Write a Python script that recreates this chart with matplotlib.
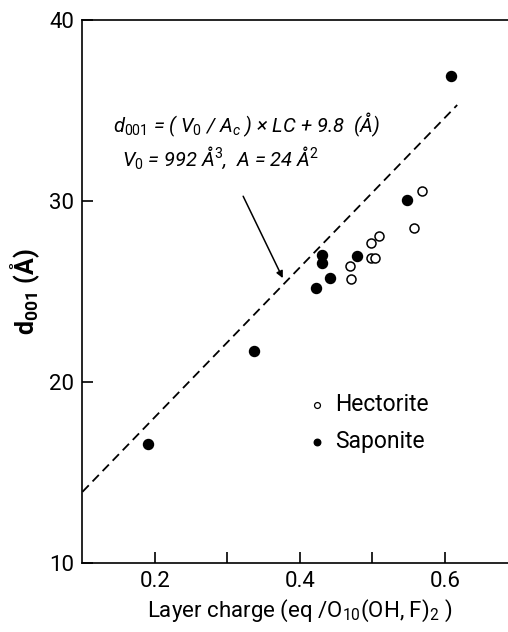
import numpy as np
import matplotlib
matplotlib.use("Agg")
import matplotlib.pyplot as plt

# ---
# data
# ---

# hectorite (open circles)
hect_lc = [0.569, 0.558, 0.509, 0.498, 0.498, 0.503, 0.469, 0.470]
hect_d = [30.55, 28.5, 28.07, 27.66, 26.87, 26.84, 26.43, 25.69]

# saponite (filled circles)
sap_lc = [0.191, 0.337, 0.422, 0.441, 0.431, 0.431, 0.479, 0.548, 0.609]
sap_d = [16.57, 21.7, 25.18, 25.73, 27.0, 26.6, 26.98, 30.04, 36.9]

# model line: d001 = (V0 / Ac) x LC + 9.8
V0, Ac, d_off = 992.0, 24.0, 9.8
line_lc = [0.1, 0.617]

xticks = [0.2, 0.3, 0.4, 0.5, 0.6]
xtick_labels = ["0.2", "", "0.4", "", "0.6"]
yticks = [10, 20, 30, 40]

# ---
# style
# ---
plt.rcParams['font.family'] = ['Roboto', 'DejaVu Sans']
plt.rcParams['mathtext.fontset'] = 'custom'
plt.rcParams['mathtext.rm'] = 'Roboto'
plt.rcParams['mathtext.it'] = 'Roboto:italic'
plt.rcParams['mathtext.bf'] = 'Roboto:bold'

fig = plt.figure(figsize=(5.08, 6.32), dpi=100)
ax = fig.add_axes([0.1624, 0.1092, 0.856, 0.8592])

ax.set_xlim(0.1, 0.7)
ax.set_ylim(10, 40)

# model line
lx = np.array(line_lc)
ax.plot(lx, V0 / Ac * lx + d_off, ls=(0, (5, 3)), color='black', lw=1.3)

# data
ax.scatter(hect_lc, hect_d, s=42, facecolors='white', edgecolors='black', linewidths=1.1, zorder=3)
ax.scatter(sap_lc, sap_d, s=52, facecolors='black', edgecolors='black', linewidths=1.0, zorder=3)

# annotation
ax.text(0.142, 34.2, r"$\mathit{d}_{\mathit{001}}$ = ( $\mathit{V}_{\mathit{0}}$ / $\mathit{A}_{\mathit{c}}$ ) × LC + 9.8  (Å)",
        fontsize=14.5, style='italic', ha='left', va='center')
ax.text(0.154, 32.4, r"$\mathit{V}_{\mathit{0}}$ = 992 Å$^{\mathit{3}}$,  A = 24 Å$^{\mathit{2}}$",
        fontsize=14.5, style='italic', ha='left', va='center')
ax.annotate("", xy=(0.378, 25.6), xytext=(0.32, 30.4),
            arrowprops=dict(arrowstyle='-|>', color='black', lw=1.1, mutation_scale=10))

# legend (hand placed like the original)
ax.scatter([0.424], [18.75], s=18, facecolors='white', edgecolors='black', linewidths=0.9, zorder=3)
ax.scatter([0.424], [16.7], s=22, facecolors='black', edgecolors='black', zorder=3)
ax.text(0.449, 18.75, "Hectorite", fontsize=16.5, va='center', ha='left')
ax.text(0.449, 16.7, "Saponite", fontsize=16.5, va='center', ha='left')

# axes
ax.spines['right'].set_visible(False)
for s in ['left', 'bottom', 'top']:
    ax.spines[s].set_linewidth(1.2)
ax.set_xticks(xticks)
ax.set_xticklabels(xtick_labels)
ax.set_yticks(yticks)
ax.tick_params(direction='in', length=8, width=1.2, labelsize=16, pad=6)

ax.set_xlabel(r"Layer charge (eq /O$_{10}$(OH, F)$_{2}$ )", fontsize=16, labelpad=4)
ax.set_ylabel(r"$\mathbf{d}_{\mathbf{001}}$ (Å)", fontsize=18, fontweight='bold', labelpad=5)

fig.savefig("out.png", dpi=100)
